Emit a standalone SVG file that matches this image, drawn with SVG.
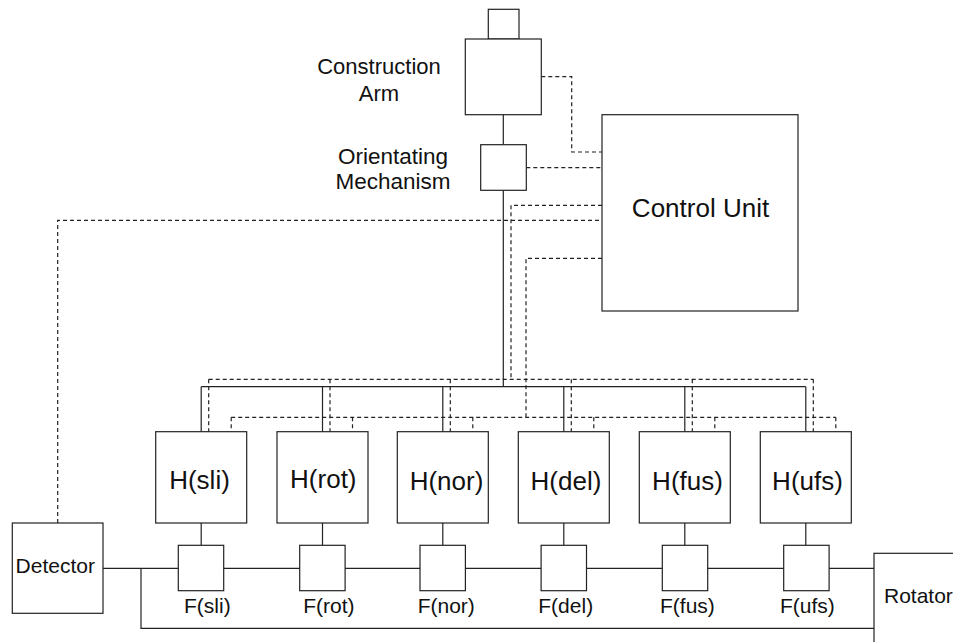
<svg xmlns="http://www.w3.org/2000/svg" width="953" height="642" viewBox="0 0 953 642">
  <style>
    .box { fill: #fff; stroke: #222; stroke-width: 1.2; }
    .wire { fill: none; stroke: #222; stroke-width: 1.2; }
    .ctl { fill: none; stroke: #222; stroke-width: 1.2; stroke-dasharray: 4 3; }
    text { font-family: "Liberation Sans", Arial, sans-serif; fill: #111; }
    .big { font-size: 26px; text-anchor: middle; }
    .mid { font-size: 22px; text-anchor: middle; }
    .sm { font-size: 21px; }
  </style>
  <rect width="953" height="642" fill="#fff"/>

  <!-- connectors -->
  <g id="connectors">
    <!-- mechanical chain: arm, orientating mechanism, head bus -->
    <path class="wire" d="M503.3 114.7 V144.7 M503.3 190.3 V386.7"/>
    <path class="wire" d="M201.2 386.7 H805.8"/>
    <path class="wire" d="M201.2 386.7 V431.7 M322.5 386.7 V431.7 M442.8 386.7 V431.7 M563.8 386.7 V431.7 M684.8 386.7 V431.7 M805.8 386.7 V431.7"/>
    <!-- head to feeder links -->
    <path class="wire" d="M201.2 523 V545.3 M322.5 523 V545.3 M442.8 523 V545.3 M563.8 523 V545.3 M684.8 523 V545.3 M805.8 523 V545.3"/>
    <!-- feeder line and return loop -->
    <path class="wire" d="M103 568.3 H874"/>
    <path class="wire" d="M141 568.3 V628.3 H874"/>

    <!-- control lines -->
    <path class="ctl" d="M541.3 76.7 H571.7 V152 H602"/>
    <path class="ctl" d="M526.3 167.7 H602"/>
    <path class="ctl" d="M57.7 523 V220.3 H602"/>
    <path class="ctl" d="M602 205.3 H511 V379.3"/>
    <path class="ctl" d="M208.7 379.3 H813.3"/>
    <path class="ctl" d="M208.7 379.3 V431.7 M330 379.3 V431.7 M450.3 379.3 V431.7 M571.3 379.3 V431.7 M692.3 379.3 V431.7 M813.3 379.3 V431.7"/>
    <path class="ctl" d="M602 258.3 H526 V417.3"/>
    <path class="ctl" d="M231.2 417.3 H835.8"/>
    <path class="ctl" d="M231.2 417.3 V431.7 M352.5 417.3 V431.7 M472.8 417.3 V431.7 M593.8 417.3 V431.7 M714.8 417.3 V431.7 M835.8 417.3 V431.7"/>
  </g>

  <!-- construction arm -->
  <g id="arm-tip">
    <rect class="box" x="488.3" y="9.3" width="30.7" height="29.7"/>
  </g>
  <g id="construction-arm">
    <rect class="box" x="465.3" y="39" width="76" height="75.7"/>
    <text class="mid" x="379" y="73.5">Construction</text>
    <text class="mid" x="379" y="100.5">Arm</text>
  </g>
  <g id="orientating-mechanism">
    <rect class="box" x="480.7" y="144.7" width="45.6" height="45.6"/>
    <text class="mid" x="393" y="163.5" style="font-size:22.5px">Orientating</text>
    <text class="mid" x="393" y="188.5" style="font-size:22.5px">Mechanism</text>
  </g>
  <g id="control-unit">
    <rect class="box" x="602" y="114.7" width="196" height="196.3"/>
    <text class="big" x="700.5" y="216.7">Control Unit</text>
  </g>

  <!-- heads -->
  <g id="h-sli">
    <rect class="box" x="155.7" y="431.7" width="91" height="91.3"/>
    <text class="big" x="199.5" y="489">H(sli)</text>
  </g>
  <g id="h-rot">
    <rect class="box" x="277" y="431.7" width="91" height="91.3"/>
    <text class="big" x="323.3" y="487.5">H(rot)</text>
  </g>
  <g id="h-nor">
    <rect class="box" x="397.3" y="431.7" width="91" height="91.3"/>
    <text class="big" x="446.5" y="490">H(nor)</text>
  </g>
  <g id="h-del">
    <rect class="box" x="518.3" y="431.7" width="91" height="91.3"/>
    <text class="big" x="566" y="490">H(del)</text>
  </g>
  <g id="h-fus">
    <rect class="box" x="639.3" y="431.7" width="91" height="91.3"/>
    <text class="big" x="687.5" y="490">H(fus)</text>
  </g>
  <g id="h-ufs">
    <rect class="box" x="760.3" y="431.7" width="91" height="91.3"/>
    <text class="big" x="807.5" y="490">H(ufs)</text>
  </g>

  <!-- feeders -->
  <g id="f-sli">
    <rect class="box" x="178.3" y="545.3" width="45.4" height="45.4"/>
    <text class="sm" x="184" y="612.7">F(sli)</text>
  </g>
  <g id="f-rot">
    <rect class="box" x="299.7" y="545.3" width="45.4" height="45.4"/>
    <text class="sm" x="303.3" y="612.7">F(rot)</text>
  </g>
  <g id="f-nor">
    <rect class="box" x="420" y="545.3" width="45.4" height="45.4"/>
    <text class="sm" x="417.7" y="612.7">F(nor)</text>
  </g>
  <g id="f-del">
    <rect class="box" x="541.1" y="545.3" width="45.4" height="45.4"/>
    <text class="sm" x="538.3" y="612.7">F(del)</text>
  </g>
  <g id="f-fus">
    <rect class="box" x="662.3" y="545.3" width="45.4" height="45.4"/>
    <text class="sm" x="660" y="612.7">F(fus)</text>
  </g>
  <g id="f-ufs">
    <rect class="box" x="783.7" y="545.3" width="45.4" height="45.4"/>
    <text class="sm" x="780" y="612.7">F(ufs)</text>
  </g>

  <!-- end units -->
  <g id="detector">
    <rect class="box" x="12.3" y="523" width="90.7" height="90.3"/>
    <text class="sm" x="55.3" y="573.3" text-anchor="middle">Detector</text>
  </g>
  <g id="rotator">
    <rect class="box" x="874" y="553.3" width="100" height="100"/>
    <text class="sm" x="884" y="602.7">Rotator</text>
  </g>
</svg>
